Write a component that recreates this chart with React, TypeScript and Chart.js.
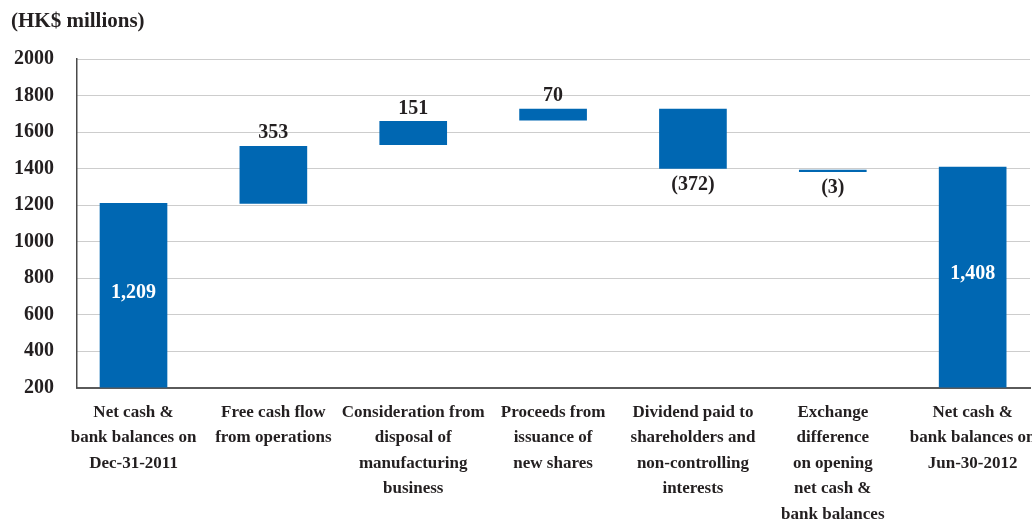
import React, { useEffect, useRef } from "react";
import { Chart, registerables } from "chart.js";

Chart.register(...registerables);

// ---- data ----
const categories: string[][] = [
  ["Net cash &", "bank balances on", "Dec-31-2011"],
  ["Free cash flow", "from operations"],
  ["Consideration from", "disposal of", "manufacturing", "business"],
  ["Proceeds from", "issuance of", "new shares"],
  ["Dividend paid to", "shareholders and", "non-controlling", "interests"],
  ["Exchange", "difference", "on opening", "net cash &", "bank balances"],
  ["Net cash &", "bank balances on", "Jun-30-2012"],
];
// floating bar extents as drawn in the reference (HK$ millions)
const barLow: number[] = [0, 1209, 1531, 1665, 1400, 1383, 0];
const barHigh: number[] = [1209, 1522, 1658, 1725, 1725, 1391, 1408];
// printed amounts
const amounts: number[] = [1209, 353, 151, 70, -372, -3, 1408];
const kinds: string[] = ["total", "change", "change", "change", "change", "change", "total"];
const yTicks: number[] = [200, 400, 600, 800, 1000, 1200, 1400, 1600, 1800, 2000];
const unitTitle = "(HK$ millions)";

const BLUE = "#0067B2";
const TEXT = "#231F20";
const SERIF = "'Liberation Serif', 'Times New Roman', serif";

function fmt(v: number): string {
  const s = Math.abs(v).toLocaleString("en-US");
  return v < 0 ? "(" + s + ")" : s;
}

const labelPlugin = {
  id: "wfLabels",
  afterDatasetsDraw(chart: any) {
    const ctx = chart.ctx;
    const meta = chart.getDatasetMeta(0);
    const area = chart.chartArea;
    ctx.save();
    ctx.textAlign = "center";
    ctx.textBaseline = "middle";
    ctx.font = "bold 20px " + SERIF;
    meta.data.forEach((el: any, i: number) => {
      const top = Math.max(Math.min(el.y, el.base), area.top);
      const bottom = Math.min(Math.max(el.y, el.base), area.bottom);
      const text = fmt(amounts[i]);
      if (kinds[i] === "total") {
        ctx.fillStyle = "#ffffff";
        ctx.fillText(text, el.x, (top + bottom) / 2 - 3);
      } else if (amounts[i] >= 0) {
        ctx.fillStyle = TEXT;
        ctx.fillText(text, el.x, top - 13);
      } else {
        ctx.fillStyle = TEXT;
        ctx.fillText(text, el.x, bottom + 16);
      }
    });
    ctx.restore();
  },
  beforeDraw(chart: any) {
    const ctx = chart.ctx;
    ctx.save();
    ctx.fillStyle = TEXT;
    ctx.font = "bold 21px " + SERIF;
    ctx.textAlign = "left";
    ctx.textBaseline = "middle";
    ctx.fillText(unitTitle, 11, 22);
    ctx.restore();
  },
};

export default function App() {
  const ref = useRef<HTMLCanvasElement | null>(null);
  useEffect(() => {
    if (!ref.current) return;
    const data = categories.map((_, i) => ({ x: i, y: [barLow[i], barHigh[i]] }));
    const chart = new Chart(ref.current, {
      type: "bar",
      data: {
        datasets: [
          {
            data: data as any,
            backgroundColor: BLUE,
            borderWidth: 0,
            barThickness: 67,
          },
        ],
      },
      plugins: [labelPlugin],
      options: {
        animation: false,
        responsive: true,
        maintainAspectRatio: false,
        layout: { autoPadding: false, padding: { top: 59, left: 13, right: 2, bottom: -18 } },
        plugins: { legend: { display: false }, tooltip: { enabled: false } },
        scales: {
          x: {
            type: "linear",
            offset: false,
            min: -0.404,
            max: 6.41,
            grid: { display: false, drawTicks: false },
            border: { display: true, color: "#5A5A5A", width: 2 },
            afterBuildTicks: (s: any) => {
              s.ticks = categories.map((_, i) => ({ value: i }));
            },
            afterFit: (s: any) => {
              s.paddingLeft = 0;
              s.paddingRight = 0;
            },
            ticks: {
              autoSkip: false,
              maxRotation: 0,
              minRotation: 0,
              padding: 12,
              color: TEXT,
              font: { family: SERIF, size: 17, weight: "bold", lineHeight: 1.5 },
              callback: (v: any) => {
                const n = Number(v);
                return Number.isInteger(n) && categories[n] ? categories[n] : "";
              },
            },
          },
          y: {
            min: yTicks[0],
            max: yTicks[yTicks.length - 1],
            grid: { color: "#9A9A9A", lineWidth: 1, drawTicks: false },
            border: { display: true, color: "#4A4A4A", width: 1.5, dash: [1, 1] },
            afterBuildTicks: (s: any) => {
              s.ticks = yTicks.map((v) => ({ value: v }));
            },
            afterFit: (s: any) => {
              s.width = 64;
            },
            ticks: {
              padding: 23,
              color: TEXT,
              font: { family: SERIF, size: 20, weight: "bold" },
              callback: (v: any) => String(v),
            },
          },
        },
      } as any,
    });
    return () => chart.destroy();
  }, []);
  return (
    <div style={{ position: "fixed", left: 0, top: 0, width: 1032, height: 521 }}>
      <canvas ref={ref} />
    </div>
  );
}
